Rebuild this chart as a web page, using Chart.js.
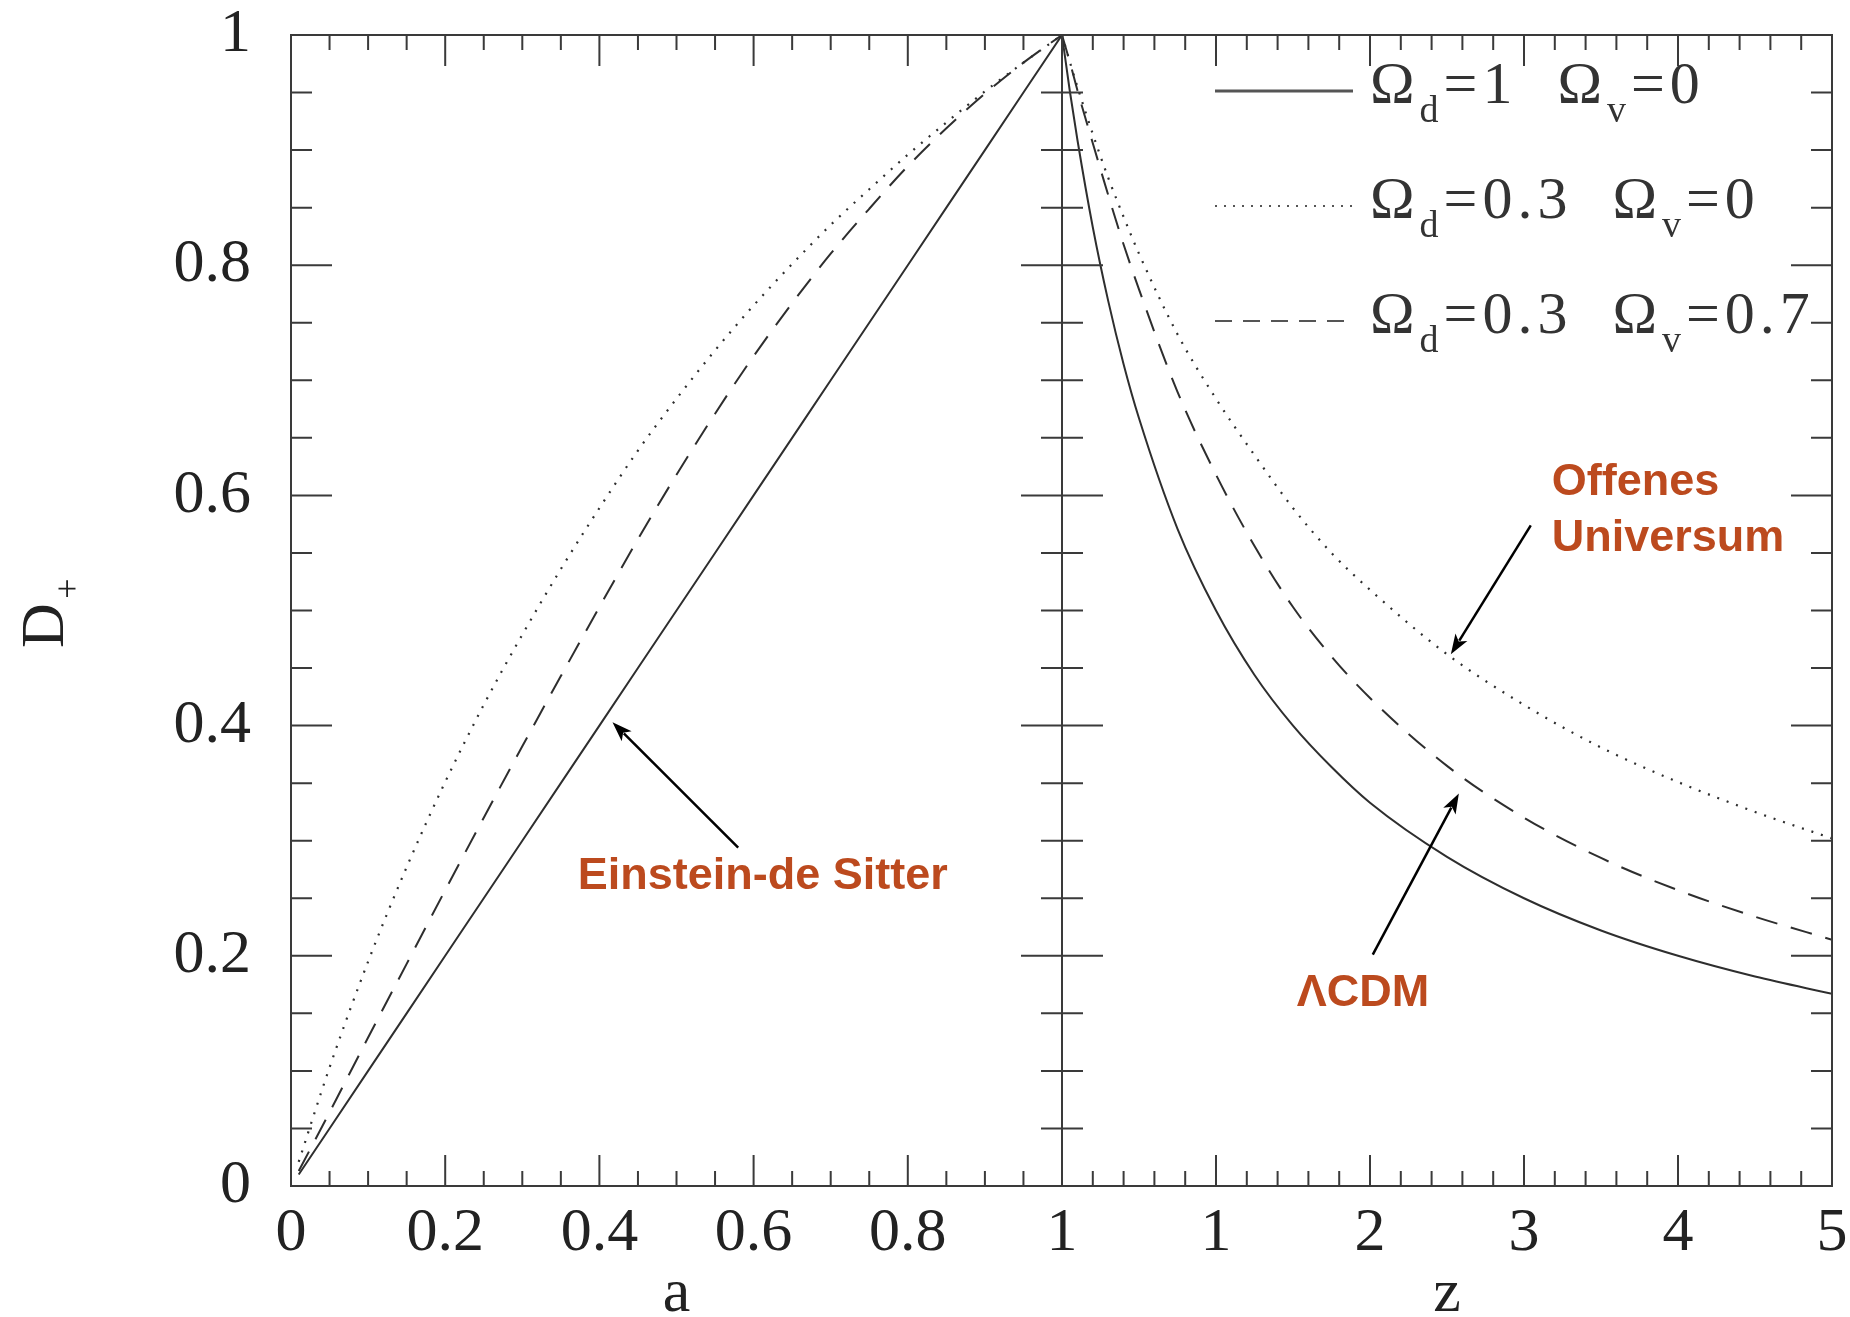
<!DOCTYPE html>
<html>
<head>
<meta charset="utf-8">
<script src="https://cdn.jsdelivr.net/npm/chart.js@4.4.0/dist/chart.umd.min.js"></script>
<style>
  html, body { margin: 0; padding: 0; background: #fff; }
  #wrap { position: relative; width: 1850px; height: 1317px; }
  #wrap canvas { position: absolute; left: 0; top: 0; }
</style>
</head>
<body>
<div id="wrap">
  <canvas id="leftChart" width="1850" height="1317"></canvas>
  <canvas id="rightChart" width="1850" height="1317"></canvas>
</div>
<script>
// values, left panel: D+ against scale factor a
const aValues = [0.01, 0.05, 0.10, 0.15, 0.20, 0.25, 0.30, 0.35, 0.40, 0.45, 0.50,
                 0.55, 0.60, 0.65, 0.70, 0.75, 0.80, 0.85, 0.90, 0.95, 1.00];
const dEdsA  = [0.010, 0.050, 0.100, 0.150, 0.200, 0.250, 0.300, 0.350, 0.400, 0.450, 0.500,
                0.550, 0.600, 0.650, 0.700, 0.750, 0.800, 0.850, 0.900, 0.950, 1.000];
const dOpenA = [0.021, 0.103, 0.195, 0.277, 0.351, 0.418, 0.479, 0.536, 0.589, 0.639, 0.684,
                0.726, 0.765, 0.801, 0.835, 0.866, 0.896, 0.924, 0.951, 0.976, 1.000];
const dLcdmA = [0.013, 0.064, 0.129, 0.193, 0.257, 0.320, 0.382, 0.443, 0.503, 0.562, 0.618,
                0.671, 0.721, 0.767, 0.810, 0.849, 0.886, 0.919, 0.949, 0.976, 1.000];

// right panel: D+ against redshift z
const zValues = [0, 0.05, 0.1, 0.2, 0.3, 0.4, 0.5, 0.75, 1, 1.25, 1.5, 1.75, 2, 2.5, 3, 3.5, 4, 4.5, 5];
const dEdsZ  = [1, 0.952, 0.909, 0.833, 0.769, 0.714, 0.667, 0.571, 0.500, 0.444, 0.400, 0.364, 0.333, 0.286, 0.250, 0.222, 0.200, 0.182, 0.167];
const dOpenZ = [1, 0.977, 0.955, 0.914, 0.876, 0.842, 0.810, 0.740, 0.684, 0.635, 0.589, 0.550, 0.518, 0.462, 0.418, 0.381, 0.351, 0.325, 0.302];
const dLcdmZ = [1, 0.977, 0.952, 0.906, 0.861, 0.818, 0.779, 0.690, 0.618, 0.556, 0.503, 0.460, 0.424, 0.365, 0.320, 0.285, 0.257, 0.234, 0.214];

const seriesLabels = ['Ω_d=1  Ω_v=0', 'Ω_d=0.3  Ω_v=0', 'Ω_d=0.3  Ω_v=0.7'];

const SERIF = '"Liberation Serif", "DejaVu Serif", serif';
const SANS = '"Liberation Sans", Arial, sans-serif';
const INK = '#2e2e2e';
const NOTE = '#bc4a1e';

const lineStyles = [
  { dash: [], width: 2 },
  { dash: [2, 8], width: 2.2 },
  { dash: [22, 14], width: 2 }
];

function makeDatasets(xs, series) {
  return series.map((ys, i) => ({
    label: seriesLabels[i],
    data: xs.map((x, j) => ({ x: x, y: ys[j] })),
    borderColor: INK,
    borderWidth: lineStyles[i].width,
    borderDash: lineStyles[i].dash,
    pointRadius: 0,
    fill: false,
    cubicInterpolationMode: 'monotone'
  }));
}

function eachTick(min, max, minor, major, fn) {
  const n = Math.round((max - min) / minor);
  const per = Math.round(major / minor);
  for (let i = 0; i <= n; i++) fn(min + i * minor, i % per === 0);
}

function arrow(ctx, x0, y0, x1, y1) {
  const ang = Math.atan2(y1 - y0, x1 - x0);
  const len = 20, half = 7;
  ctx.beginPath();
  ctx.moveTo(x0, y0);
  ctx.lineTo(x1 - Math.cos(ang) * len * 0.8, y1 - Math.sin(ang) * len * 0.8);
  ctx.stroke();
  ctx.beginPath();
  ctx.moveTo(x1, y1);
  ctx.lineTo(x1 - Math.cos(ang) * len + Math.sin(ang) * half, y1 - Math.sin(ang) * len - Math.cos(ang) * half);
  ctx.lineTo(x1 - Math.cos(ang) * len * 0.75, y1 - Math.sin(ang) * len * 0.75);
  ctx.lineTo(x1 - Math.cos(ang) * len - Math.sin(ang) * half, y1 - Math.sin(ang) * len + Math.cos(ang) * half);
  ctx.closePath();
  ctx.fill();
}

// text with "_x" meaning subscript x
function drawRich(ctx, str, x, y) {
  let cx = x;
  for (let i = 0; i < str.length; i++) {
    let ch = str[i], sub = false;
    if (ch === '_') { ch = str[++i]; sub = true; }
    ctx.font = sub ? '38px ' + SERIF : '60px ' + SERIF;
    ctx.fillText(ch, cx, sub ? y + 19 : y);
    cx += ctx.measureText(ch).width + 5;
  }
}

const decor = {
  id: 'decor',
  afterDraw(chart, args, opts) {
    const { ctx, chartArea: ca } = chart;
    const xs = chart.scales.x, ys = chart.scales.y;
    ctx.save();

    // frame and inward ticks
    ctx.strokeStyle = '#3a3a3a';
    ctx.lineWidth = 2;
    ctx.strokeRect(ca.left, ca.top, ca.right - ca.left, ca.bottom - ca.top);
    ctx.beginPath();
    eachTick(xs.min, xs.max, opts.xMinor, opts.xMajor, (v, major) => {
      const px = xs.getPixelForValue(v);
      const len = major ? 31 : 15;
      ctx.moveTo(px, ca.bottom); ctx.lineTo(px, ca.bottom - len);
      ctx.moveTo(px, ca.top); ctx.lineTo(px, ca.top + len);
    });
    eachTick(ys.min, ys.max, 0.05, 0.2, (v, major) => {
      const py = ys.getPixelForValue(v);
      const len = major ? 41 : 21;
      ctx.moveTo(ca.left, py); ctx.lineTo(ca.left + len, py);
      ctx.moveTo(ca.right, py); ctx.lineTo(ca.right - len, py);
    });
    ctx.stroke();

    // axis titles
    ctx.fillStyle = '#222';
    ctx.textAlign = 'center';
    ctx.textBaseline = 'alphabetic';
    ctx.font = '62px ' + SERIF;
    ctx.fillText(opts.xTitle, (ca.left + ca.right) / 2, ca.bottom + 125);
    if (opts.yTitle) {
      ctx.save();
      ctx.translate(63, (ca.top + ca.bottom) / 2 + 15);
      ctx.rotate(-Math.PI / 2);
      ctx.fillText('D', 0, 0);
      ctx.font = '36px ' + SERIF;
      ctx.textBaseline = 'middle';
      ctx.fillText('+', 37, 7);
      ctx.restore();
    }

    // legend
    if (opts.legend) {
      chart.data.datasets.forEach((ds, i) => {
        const ry = ca.top + 56 + i * 115;
        ctx.save();
        ctx.strokeStyle = '#555';
        ctx.lineWidth = i === 0 ? 3 : 2;
        ctx.setLineDash(i === 1 ? [2, 7] : i === 2 ? [17, 11] : []);
        ctx.beginPath();
        ctx.moveTo(ca.left + 153, ry);
        ctx.lineTo(ca.left + 291, ry);
        ctx.stroke();
        ctx.restore();
        ctx.textAlign = 'left';
        ctx.textBaseline = 'alphabetic';
        ctx.fillStyle = '#333';
        drawRich(ctx, ds.label, ca.left + 308, ry + 12);
      });
    }

    // annotations with arrows, anchored in data coordinates
    (opts.notes || []).forEach(n => {
      ctx.strokeStyle = '#000';
      ctx.fillStyle = '#000';
      ctx.lineWidth = 2.5;
      arrow(ctx, xs.getPixelForValue(n.tail[0]), ys.getPixelForValue(n.tail[1]),
                 xs.getPixelForValue(n.tip[0]), ys.getPixelForValue(n.tip[1]));
      ctx.fillStyle = NOTE;
      ctx.font = 'bold 45px ' + SANS;
      ctx.textAlign = 'left';
      ctx.textBaseline = 'alphabetic';
      const tx = xs.getPixelForValue(n.at[0]), ty = ys.getPixelForValue(n.at[1]);
      n.lines.forEach((t, k) => ctx.fillText(t, tx, ty + k * 56));
    });

    ctx.restore();
  }
};

function tickFont() {
  return { family: SERIF, size: 62, lineHeight: 1 };
}
const plainNumber = v => String(Number(v.toFixed(2)));

// fixed axis boxes so both panels share one frame line
function fixX(s) { s.height = 131; s.paddingLeft = 0; s.paddingRight = 0; }
function fixY(s) { s.width = 291; s.paddingTop = 0; s.paddingBottom = 0; }

new Chart(document.getElementById('leftChart'), {
  type: 'line',
  data: { datasets: makeDatasets(aValues, [dEdsA, dOpenA, dLcdmA]) },
  options: {
    responsive: false,
    animation: false,
    layout: { padding: { left: 0, right: 788, top: 35, bottom: 0 } },
    plugins: {
      legend: { display: false },
      tooltip: { enabled: false },
      decor: {
        xMinor: 0.05, xMajor: 0.2, xTitle: 'a', yTitle: true,
        notes: [{ lines: ['Einstein-de Sitter'], at: [0.372, 0.258], tail: [0.58, 0.294], tip: [0.417, 0.403] }]
      }
    },
    scales: {
      x: {
        type: 'linear', min: 0, max: 1,
        grid: { display: false, drawTicks: false }, border: { display: false },
        ticks: { stepSize: 0.2, autoSkip: false, maxRotation: 0, padding: 17, color: '#222', font: tickFont(),
                 callback: plainNumber },
        afterFit: fixX
      },
      y: {
        type: 'linear', min: 0, max: 1,
        grid: { display: false, drawTicks: false }, border: { display: false },
        ticks: { stepSize: 0.2, autoSkip: false, padding: 40, color: '#222', font: tickFont(),
                 callback: plainNumber },
        afterFit: fixY
      }
    }
  },
  plugins: [decor]
});

new Chart(document.getElementById('rightChart'), {
  type: 'line',
  data: { datasets: makeDatasets(zValues, [dEdsZ, dOpenZ, dLcdmZ]) },
  options: {
    responsive: false,
    animation: false,
    layout: { padding: { left: 1062, right: 18, top: 35, bottom: 0 } },
    plugins: {
      legend: { display: false },
      tooltip: { enabled: false },
      decor: {
        xMinor: 0.2, xMajor: 1, xTitle: 'z', yTitle: false, legend: true,
        notes: [
          { lines: ['Offenes', 'Universum'], at: [3.18, 0.600], tail: [3.044, 0.574], tip: [2.525, 0.462] },
          { lines: ['ΛCDM'], at: [1.525, 0.156], tail: [2.018, 0.201], tip: [2.577, 0.341] }
        ]
      }
    },
    scales: {
      x: {
        type: 'linear', min: 0, max: 5,
        grid: { display: false, drawTicks: false }, border: { display: false },
        ticks: { stepSize: 1, autoSkip: false, maxRotation: 0, padding: 17, color: '#222', font: tickFont(),
                 callback: v => (v === 0 ? '' : plainNumber(v)) },
        afterFit: fixX
      },
      y: {
        type: 'linear', min: 0, max: 1, display: false
      }
    }
  },
  plugins: [decor]
});
</script>
</body>
</html>
